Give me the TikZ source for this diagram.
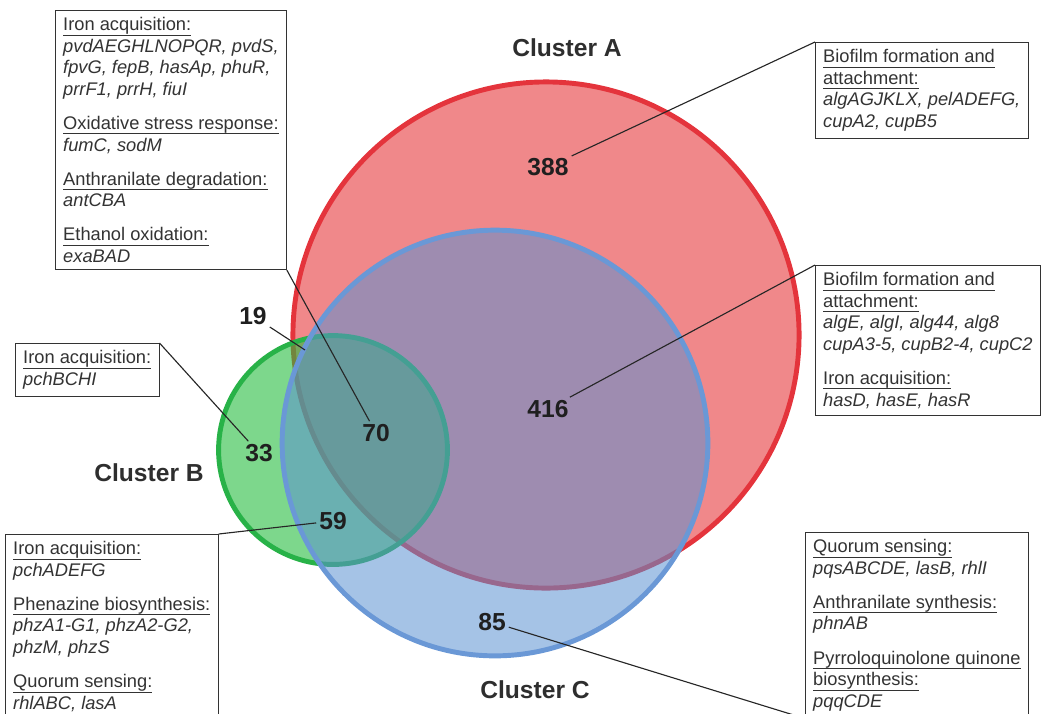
\documentclass[tikz,border=0pt]{standalone}
\usepackage{fontspec}
\setmainfont{Liberation Sans}
\usetikzlibrary{positioning}

\definecolor{fillA}{RGB}{240,136,138}
\definecolor{lineA}{RGB}{228,52,60}
\definecolor{fillB}{RGB}{38,188,63}
\definecolor{lineB}{RGB}{40,178,72}
\definecolor{fillC}{RGB}{91,145,209}
\definecolor{lineC}{RGB}{106,152,214}

% heading of a gene list, underlined close to the baseline
\newcommand{\hd}[1]{\underline{\raisebox{0pt}[\height][1.6pt]{#1}}}

\tikzset{
    genebox/.style={draw=black!80, fill=white, line width=0.7pt, align=left, anchor=north west,
        inner xsep=5.5pt, inner ysep=5pt, text=black!80, font=\fontsize{13}{15.3}\selectfont},
    count/.style={inner sep=2pt, text=black!88, font=\fontsize{17.5}{20}\selectfont\bfseries},
    cluster/.style={inner sep=2pt, text=black!82, font=\fontsize{17.5}{20}\selectfont\bfseries},
    leader/.style={draw=black!85, line width=0.8pt}
}

\begin{document}
\begin{tikzpicture}[x=0.025cm, y=-0.025cm]
    \useasboundingbox (0,0) rectangle (1044,713);

    % the three clusters
    \fill [fillA] (546,335) circle [radius=6.325cm];
    \draw [lineA, line width=3.5pt] (546,335) circle [radius=6.325cm];
    \fill [fillB, fill opacity=0.6] (333,450) circle [radius=2.86cm];
    \draw [lineB, line width=3.5pt] (333,450) circle [radius=2.86cm];
    \fill [fillC, fill opacity=0.55] (495,443) circle [radius=5.32cm];
    \draw [lineC, line width=3.5pt] (495,443) circle [radius=5.32cm];

    \node [cluster] (labelA) at (567,48) {Cluster A};
    \node [cluster] (labelB) at (149,473) {Cluster B};
    \node [cluster] (labelC) at (535,690) {Cluster C};

    \node [count] (n388) at (548,167) {388};
    \node [count] (n19) at (253,316) {19};
    \node [count] (n70) at (376,433) {70};
    \node [count] (n33) at (259,453) {33};
    \node [count] (n416) at (548,409) {416};
    \node [count] (n59) at (333,521) {59};
    \node [count] (n85) at (492,622) {85};
    \coordinate (in19) at (305,350);

    % gene lists
    \node [genebox] (genes70) at (55,10) {\hd{Iron acquisition:}\\
        \textit{pvdAEGHLNOPQR, pvdS,}\\ \textit{fpvG, fepB, hasAp, phuR,}\\ \textit{prrF1, prrH, fiuI}\\[9pt]
        \hd{Oxidative stress response:}\\ \textit{fumC, sodM}\\[9pt]
        \hd{Anthranilate degradation:}\\ \textit{antCBA}\\[9pt]
        \hd{Ethanol oxidation:}\\ \textit{exaBAD}};
    \node [genebox] (genes388) at (815,42) {\hd{Biofilm formation and}\\ \hd{attachment:}\\
        \textit{algAGJKLX, pelADEFG,}\\ \textit{cupA2, cupB5}};
    \node [genebox] (genes416) at (815,265) {\hd{Biofilm formation and}\\ \hd{attachment:}\\
        \textit{algE, algI, alg44, alg8}\\ \textit{cupA3-5, cupB2-4, cupC2}\\[9pt]
        \hd{Iron acquisition:}\\ \textit{hasD, hasE, hasR}};
    \node [genebox] (genes33) at (15,343) {\hd{Iron acquisition:}\\ \textit{pchBCHI}};
    \node [genebox] (genes59) at (5,534) {\hd{Iron acquisition:}\\ \textit{pchADEFG}\\[9pt]
        \hd{Phenazine biosynthesis:}\\ \textit{phzA1-G1, phzA2-G2,}\\ \textit{phzM, phzS}\\[9pt]
        \hd{Quorum sensing:}\\ \textit{rhlABC, lasA}};
    \node [genebox] (genes85) at (805,532) {\hd{Quorum sensing:}\\ \textit{pqsABCDE, lasB, rhlI}\\[9pt]
        \hd{Anthranilate synthesis:}\\ \textit{phnAB}\\[9pt]
        \hd{Pyrroloquinolone quinone}\\ \hd{biosynthesis:}\\ \textit{pqqCDE}};

    \draw [leader] (genes388.north west) -- (n388);
    \draw [leader] (genes416.north west) -- (n416);
    \draw [leader] (genes70.south east) -- (n70);
    \draw [leader] (genes33.north east) -- (n33);
    \draw [leader] (genes59.north east) -- (n59);
    \draw [leader] (n85) -- (genes85.south west);
    \draw [leader] (n19) -- (in19);
\end{tikzpicture}
\end{document}
